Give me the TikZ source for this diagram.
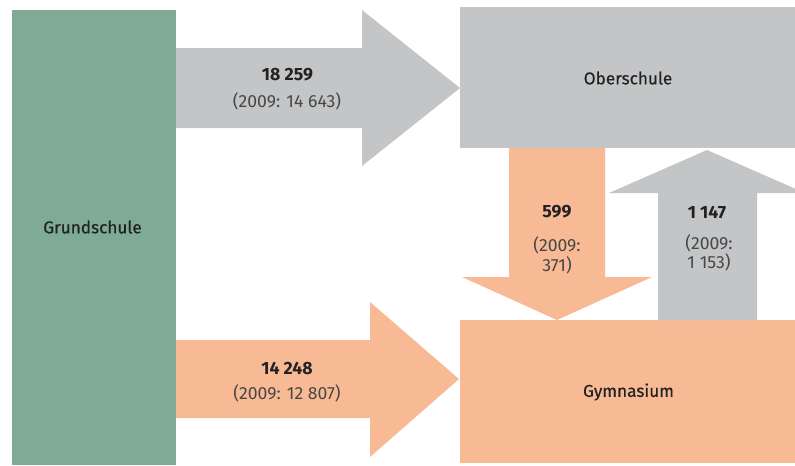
\documentclass[tikz,border=0pt]{standalone}
\usepackage{fontspec}
\setmainfont{Fira Sans}
\newfontfamily\schoolfont[FakeBold=0.4]{Fira Sans}
\usetikzlibrary{positioning}

\definecolor{grundgreen}{HTML}{7FAA96}
\definecolor{blockgray}{HTML}{C4C5C7}
\definecolor{blockorange}{HTML}{F8BA94}
\definecolor{inkdark}{HTML}{222222}

\begin{document}
\begin{tikzpicture}[
    x=0.75pt, y=-0.75pt,
    school/.style={text=inkdark, font=\schoolfont\fontsize{12.9}{15}\selectfont},
    count/.style={text=inkdark, font=\bfseries\fontsize{13.3}{15}\selectfont},
    prev/.style={text=black!72, align=center, font=\fontsize{13.2}{15}\selectfont},
  ]
    \clip (0,0) rectangle (795,465);
    % school blocks
    \fill[grundgreen]  (12,10)  rectangle (176,465);
    \fill[blockgray]   (460,7)  rectangle (795,148);
    \fill[blockorange] (460,320) rectangle (795,463);
    % flows (block arrows)
    \fill[blockgray] (176,48) -- (362,48) -- (362,10) -- (460,88)
        -- (362,166) -- (362,128) -- (176,128) -- cycle;
    \fill[blockorange] (176,340) -- (370,340) -- (370,302) -- (459,379)
        -- (370,457) -- (370,418) -- (176,418) -- cycle;
    \fill[blockorange] (509,148) -- (605,148) -- (605,277) -- (652,277)
        -- (557,320) -- (462,277) -- (509,277) -- cycle;
    \fill[blockgray] (658,320) -- (658,193) -- (609,193) -- (707,150)
        -- (805,193) -- (757,193) -- (757,320) -- cycle;
    % school names
    \node[school] (grund) at (92.5,227) {Grundschule};
    \node[school] (ober)  at (628,78)   {Oberschule};
    \node[school] (gym)   at (628.5,392) {Gymnasium};
    % counts
    \node[count] (ngo) at (287.5,75) {18 259};
    \node[prev]  (pgo) at (287,101)  {(2009: 14 643)};
    \node[count] (ngg) at (287,368)  {14 248};
    \node[prev]  (pgg) at (287,393)  {(2009: 12 807)};
    \node[count] (nog) at (557,212)  {599};
    \node[prev]  (pog) at (557,255)  {(2009:\\371)};
    \node[count] (ngb) at (707,212)  {1 147};
    \node[prev, font=\fontsize{13.2}{14}\selectfont] (pgb) at (709,253) {(2009:\\1 153)};
\end{tikzpicture}
\end{document}
